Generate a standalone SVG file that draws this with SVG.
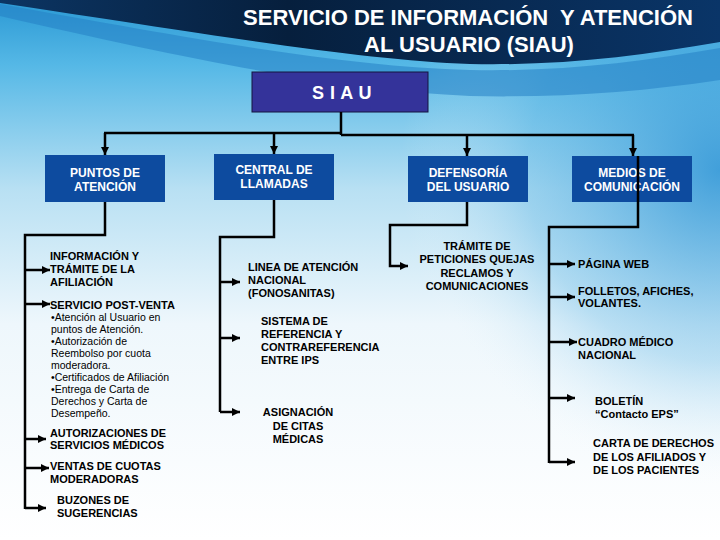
<svg xmlns="http://www.w3.org/2000/svg" width="720" height="540" viewBox="0 0 720 540">
<defs>
<linearGradient id="bg" x1="0" y1="0" x2="0" y2="1">
<stop offset="0" stop-color="#2a98d4"/>
<stop offset="0.12" stop-color="#55b8e6"/>
<stop offset="0.35" stop-color="#b8e0f3"/>
<stop offset="0.6" stop-color="#eef7fc"/>
<stop offset="1" stop-color="#ffffff"/>
</linearGradient>
<radialGradient id="rb" cx="720" cy="170" r="320" gradientUnits="userSpaceOnUse">
<stop offset="0" stop-color="#2f95d6" stop-opacity="0.85"/>
<stop offset="0.6" stop-color="#5ab3e3" stop-opacity="0.35"/>
<stop offset="1" stop-color="#ffffff" stop-opacity="0"/>
</radialGradient>
<linearGradient id="dark" x1="0" y1="0" x2="1" y2="0">
<stop offset="0" stop-color="#0c3563"/>
<stop offset="0.4" stop-color="#061f3d"/>
<stop offset="1" stop-color="#0a3568"/>
</linearGradient>
<marker id="ah" viewBox="0 0 8 8" refX="8" refY="4" markerWidth="8" markerHeight="8" markerUnits="userSpaceOnUse" orient="auto">
<path d="M0,0 L8,4 L0,8 Z" fill="#000"/>
</marker>
<style>
.hdr{fill:#0d4b9f}
.ht{font-family:"Liberation Sans",Arial,sans-serif;font-weight:bold;font-size:12px;fill:#fff;text-anchor:middle}
.bt{font-family:"Liberation Sans",Arial,sans-serif;font-weight:bold;font-size:11px;fill:#000}
.rt{font-family:"Liberation Sans",Arial,sans-serif;font-size:10.5px;fill:#000}
.c{text-anchor:middle}
.ln{fill:none;stroke:#000;stroke-width:2.5}
.ar{fill:none;stroke:#000;stroke-width:2.5;marker-end:url(#ah)}
.ttl{font-family:"Liberation Sans",Arial,sans-serif;font-weight:bold;font-size:22px;fill:#fff;text-anchor:middle}
</style>
</defs>

<rect width="720" height="540" fill="url(#bg)"/>
<rect width="720" height="540" fill="url(#rb)"/>
<path d="M0,4 C200,40 340,66 470,70 C560,72 640,62 720,48 V80 C640,92 560,98 470,96 C340,90 200,62 0,16 Z" fill="#2580c4" opacity="0.55"/>
<path d="M0,0 H720 V42 C640,56 560,66 470,64 C360,60 220,36 0,3 Z" fill="url(#dark)"/>

<g id="title">
<text class="ttl" x="468" y="25" xml:space="preserve">SERVICIO DE INFORMACIÓN  Y ATENCIÓN</text>
<text class="ttl" x="469" y="52">AL USUARIO (SIAU)</text>
</g>

<g id="siau">
<rect x="252" y="72" width="176" height="40" fill="#34339a" stroke="#14143f" stroke-width="1"/>
<text x="342" y="99" font-family="Liberation Sans, Arial, sans-serif" font-weight="bold" font-size="18" fill="#fff" text-anchor="middle" letter-spacing="0.5">S I A U</text>
</g>

<g id="puntos">
<rect class="hdr" x="45" y="155" width="120" height="47"/>
<text class="ht" x="105" y="177">PUNTOS DE</text>
<text class="ht" x="105" y="191">ATENCIÓN</text>
</g>
<g id="central">
<rect class="hdr" x="214" y="154" width="120" height="46"/>
<text class="ht" x="274" y="174">CENTRAL DE</text>
<text class="ht" x="274" y="188">LLAMADAS</text>
</g>
<g id="defensoria">
<rect class="hdr" x="408" y="156" width="120" height="46"/>
<text class="ht" x="468" y="177">DEFENSORÍA</text>
<text class="ht" x="468" y="191">DEL USUARIO</text>
</g>
<g id="medios">
<rect class="hdr" x="572" y="156" width="120" height="46"/>
<text class="ht" x="632" y="177">MEDIOS DE</text>
<text class="ht" x="632" y="191">COMUNICACIÓN</text>
</g>

<g id="info-tramite">
<text class="bt" x="50" y="260">INFORMACIÓN Y</text>
<text class="bt" x="50" y="273">TRÁMITE DE LA</text>
<text class="bt" x="50" y="286">AFILIACIÓN</text>
</g>
<g id="post-venta">
<text class="bt" x="50" y="309">SERVICIO POST-VENTA</text>
<text class="rt" x="51" y="321">•Atención al Usuario en</text>
<text class="rt" x="51" y="333">puntos de Atención.</text>
<text class="rt" x="51" y="345">•Autorización de</text>
<text class="rt" x="51" y="357">Reembolso por cuota</text>
<text class="rt" x="51" y="369">moderadora.</text>
<text class="rt" x="51" y="381">•Certificados de Afiliación</text>
<text class="rt" x="51" y="393">•Entrega de Carta de</text>
<text class="rt" x="51" y="405">Derechos y Carta de</text>
<text class="rt" x="51" y="417">Desempeño.</text>
</g>
<g id="autorizaciones">
<text class="bt" x="50" y="437" textLength="116" lengthAdjust="spacingAndGlyphs">AUTORIZACIONES DE</text>
<text class="bt" x="50" y="449" textLength="114" lengthAdjust="spacingAndGlyphs">SERVICIOS MÉDICOS</text>
</g>
<g id="ventas">
<text class="bt" x="50" y="470">VENTAS DE CUOTAS</text>
<text class="bt" x="50" y="483">MODERADORAS</text>
</g>
<g id="buzones">
<text class="bt" x="57" y="504">BUZONES DE</text>
<text class="bt" x="57" y="517">SUGERENCIAS</text>
</g>

<g id="linea">
<text class="bt" x="248" y="271">LINEA DE ATENCIÓN</text>
<text class="bt" x="248" y="284">NACIONAL</text>
<text class="bt" x="248" y="297">(FONOSANITAS)</text>
</g>
<g id="sistema">
<text class="bt" x="261" y="325">SISTEMA DE</text>
<text class="bt" x="261" y="338">REFERENCIA Y</text>
<text class="bt" x="261" y="351">CONTRAREFERENCIA</text>
<text class="bt" x="261" y="364">ENTRE IPS</text>
</g>
<g id="asignacion">
<text class="bt c" x="298" y="416">ASIGNACIÓN</text>
<text class="bt c" x="298" y="430">DE CITAS</text>
<text class="bt c" x="298" y="443">MÉDICAS</text>
</g>

<g id="tramite-peticiones">
<text class="bt c" x="477" y="250">TRÁMITE DE</text>
<text class="bt c" x="477" y="263">PETICIONES QUEJAS</text>
<text class="bt c" x="477" y="277">RECLAMOS Y</text>
<text class="bt c" x="477" y="290">COMUNICACIONES</text>
</g>

<g id="pagina-web">
<text class="bt" x="578" y="268">PÁGINA WEB</text>
</g>
<g id="folletos">
<text class="bt" x="578" y="295">FOLLETOS, AFICHES,</text>
<text class="bt" x="578" y="307">VOLANTES.</text>
</g>
<g id="cuadro">
<text class="bt" x="578" y="346">CUADRO MÉDICO</text>
<text class="bt" x="578" y="359">NACIONAL</text>
</g>
<g id="boletin">
<text class="bt" x="595" y="405">BOLETÍN</text>
<text class="bt" x="595" y="418">“Contacto EPS”</text>
</g>
<g id="carta">
<text class="bt" x="593" y="447">CARTA DE DERECHOS</text>
<text class="bt" x="593" y="461">DE LOS AFILIADOS Y</text>
<text class="bt" x="593" y="474">DE LOS PACIENTES</text>
</g>

<g id="connectors">
<path class="ln" d="M341,112 V135"/>
<path class="ln" d="M104,133 H341"/>
<path class="ln" d="M341,135 H634"/>
<path class="ar" d="M105,133 V155"/>
<path class="ar" d="M274,133 V154"/>
<path class="ar" d="M467,135 V156"/>
<path class="ar" d="M633,135 V156"/>

<path class="ln" d="M105,202 V235 H25 V509"/>
<path class="ar" d="M25,270 H50"/>
<path class="ar" d="M25,304 H50"/>
<path class="ar" d="M25,439 H46"/>
<path class="ar" d="M25,468 H49"/>
<path class="ar" d="M25,508 H46"/>

<path class="ln" d="M274,200 V237 H220 V412"/>
<path class="ar" d="M220,282 H240"/>
<path class="ar" d="M220,338 H240"/>
<path class="ar" d="M220,412 H240"/>

<path class="ar" d="M467,202 V225 H390 V266 H408"/>

<path class="ln" d="M638,156 V227 H549 V463"/>
<path class="ar" d="M549,264 H575"/>
<path class="ar" d="M549,297 H575"/>
<path class="ar" d="M549,342 H577"/>
<path class="ar" d="M549,398 H575"/>
<path class="ar" d="M549,462 H575"/>
</g>
</svg>
